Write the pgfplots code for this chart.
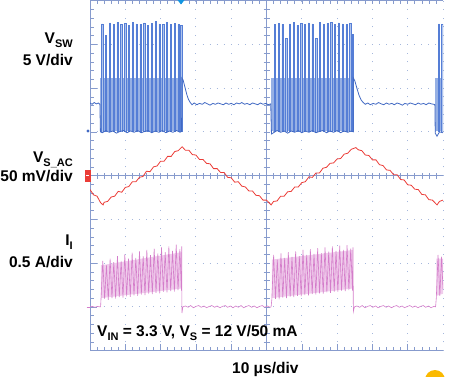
\documentclass[border=0pt]{standalone}
\usepackage{pgfplots}
\pgfplotsset{compat=1.18}
\usepackage{fontspec}
\setmainfont{Liberation Sans}
\definecolor{gridc}{RGB}{165,183,220}
\definecolor{axc}{RGB}{135,155,205}
\definecolor{vsw}{RGB}{65,105,195}
\definecolor{spk}{RGB}{85,126,214}
\definecolor{colfill}{RGB}{175,196,237}
\definecolor{band}{RGB}{150,176,228}
\definecolor{vsac}{RGB}{235,60,55}
\definecolor{ii}{RGB}{212,125,202}
\definecolor{iifill}{RGB}{240,205,236}
\definecolor{trig}{RGB}{20,150,225}
\definecolor{orng}{RGB}{250,185,0}
\newcommand{\sub}[1]{\raisebox{-0.32em}{\fontsize{11}{11}\selectfont #1}}
\newcommand{\lab}{\fontsize{15.5}{18}\selectfont\bfseries}
\begin{document}
\begin{tikzpicture}[x=1pt,y=1pt]
\useasboundingbox (0,0) rectangle (450,376);
% ---- scope graticule ----
\foreach \k in {1,2,3,4,6,7,8,9,10} {
  \draw[gridc, line width=0.9pt, dash pattern=on 0.9pt off 7.85pt, dash phase=0.45pt] ({90+35.3*\k},25.4) -- ({90+35.3*\k},375.4);
}
\foreach \j in {1,2,3,5,6,7} {
  \draw[gridc, line width=0.9pt, dash pattern=on 0.9pt off 6.16pt, dash phase=0.45pt] (90,{25.4+43.75*\j}) -- (443,{25.4+43.75*\j});
}
\draw[axc, line width=0.7pt] (266.5,25.4) -- (266.5,375.4);
\draw[axc, line width=0.7pt] (90,200.4) -- (443,200.4);
\foreach \i in {1,...,39} \draw[axc, line width=0.6pt] (263.5,{25.4+8.75*\i}) -- (269.5,{25.4+8.75*\i});
\foreach \i in {1,...,49} \draw[axc, line width=0.6pt] ({90+7.06*\i},197.4) -- ({90+7.06*\i},203.4);
\draw[axc, line width=0.8pt] (90,375.4) -- (90,25.4) -- (443,25.4);
\draw[axc, line width=0.8pt] (90,375.4) -- (443,375.4);
\foreach \i in {1,...,39} \draw[axc, line width=0.6pt] (90,{25.4+8.75*\i}) -- ++(3.5,0);
\foreach \i in {1,...,7} \draw[axc, line width=0.6pt] (90,{25.4+43.75*\i}) -- ++(7,0);
\foreach \i in {1,...,49} \draw[axc, line width=0.6pt] ({90+7.06*\i},25.4) -- ++(0,3.5);
\foreach \i in {1,...,9} \draw[axc, line width=0.6pt] ({90+35.3*\i},25.4) -- ++(0,7);
\foreach \i in {1,...,49} \draw[axc, line width=0.6pt] ({90+7.06*\i},375.4) -- ++(0,-3.5);
% ---- traces ----
\begin{axis}[at={(90pt,25.4pt)}, anchor=south west, scale only axis,
  width=353pt, height=350pt, xmin=0, xmax=100, ymin=0, ymax=8,
  hide axis, clip=true, unbounded coords=jump]
% V_SW switching band
\addplot[fill=band, draw=none] coordinates {(2.95,5.02) (2.95,6.23) (26.0,6.23) (26.0,5.02)};
\addplot[fill=band, draw=none] coordinates {(51.4,5.02) (51.4,6.23) (74.6,6.23) (74.6,5.02)};
\addplot[fill=band, draw=none] coordinates {(97.8,5.02) (97.8,6.23) (100,6.23) (100,5.02)};
% V_SW narrow switching pulses
\addplot[spk, fill=colfill, line width=0.5pt] coordinates {
(3.30,5.0)(3.30,7.47)(3.65,7.47)(3.65,5.0)(3.65,nan)
(4.38,5.0)(4.38,7.20)(4.73,7.20)(4.73,5.0)(4.73,nan)
(5.46,5.0)(5.46,7.49)(5.81,7.49)(5.81,5.0)(5.81,nan)
(6.54,5.0)(6.54,7.46)(6.89,7.46)(6.89,5.0)(6.89,nan)
(7.62,5.0)(7.62,7.50)(7.97,7.50)(7.97,5.0)(7.97,nan)
(8.70,5.0)(8.70,7.45)(9.05,7.45)(9.05,5.0)(9.05,nan)
(9.78,5.0)(9.78,7.48)(10.13,7.48)(10.13,5.0)(10.13,nan)
(10.86,5.0)(10.86,7.44)(11.21,7.44)(11.21,5.0)(11.21,nan)
(11.94,5.0)(11.94,7.50)(12.29,7.50)(12.29,5.0)(12.29,nan)
(13.02,5.0)(13.02,7.47)(13.37,7.47)(13.37,5.0)(13.37,nan)
(14.10,5.0)(14.10,7.46)(14.45,7.46)(14.45,5.0)(14.45,nan)
(15.18,5.0)(15.18,7.49)(15.53,7.49)(15.53,5.0)(15.53,nan)
(16.26,5.0)(16.26,7.43)(16.61,7.43)(16.61,5.0)(16.61,nan)
(17.34,5.0)(17.34,7.48)(17.69,7.48)(17.69,5.0)(17.69,nan)
(18.42,5.0)(18.42,7.52)(18.77,7.52)(18.77,5.0)(18.77,nan)
(19.50,5.0)(19.50,7.47)(19.85,7.47)(19.85,5.0)(19.85,nan)
(20.58,5.0)(20.58,7.45)(20.93,7.45)(20.93,5.0)(20.93,nan)
(21.66,5.0)(21.66,7.50)(22.01,7.50)(22.01,5.0)(22.01,nan)
(22.74,5.0)(22.74,7.46)(23.09,7.46)(23.09,5.0)(23.09,nan)
(23.82,5.0)(23.82,7.48)(24.17,7.48)(24.17,5.0)(24.17,nan)
(24.90,5.0)(24.90,7.45)(25.25,7.45)(25.25,5.0)(25.25,nan)
(25.65,5.0)(25.65,7.44)(26.00,7.44)(26.00,5.0)(26.00,nan)
(52.20,5.0)(52.20,7.45)(52.55,7.45)(52.55,5.0)(52.55,nan)
(53.27,5.0)(53.27,7.48)(53.62,7.48)(53.62,5.0)(53.62,nan)
(54.33,5.0)(54.33,7.46)(54.68,7.46)(54.68,5.0)(54.68,nan)
(55.40,5.0)(55.40,7.14)(55.75,7.14)(55.75,5.0)(55.75,nan)
(56.46,5.0)(56.46,7.47)(56.81,7.47)(56.81,5.0)(56.81,nan)
(57.53,5.0)(57.53,7.50)(57.88,7.50)(57.88,5.0)(57.88,nan)
(58.60,5.0)(58.60,7.44)(58.95,7.44)(58.95,5.0)(58.95,nan)
(59.66,5.0)(59.66,7.48)(60.01,7.48)(60.01,5.0)(60.01,nan)
(60.73,5.0)(60.73,7.46)(61.08,7.46)(61.08,5.0)(61.08,nan)
(61.79,5.0)(61.79,7.49)(62.14,7.49)(62.14,5.0)(62.14,nan)
(62.86,5.0)(62.86,7.47)(63.21,7.47)(63.21,5.0)(63.21,nan)
(63.93,5.0)(63.93,7.14)(64.28,7.14)(64.28,5.0)(64.28,nan)
(64.99,5.0)(64.99,7.50)(65.34,7.50)(65.34,5.0)(65.34,nan)
(66.06,5.0)(66.06,7.45)(66.41,7.45)(66.41,5.0)(66.41,nan)
(67.12,5.0)(67.12,7.48)(67.47,7.48)(67.47,5.0)(67.47,nan)
(68.19,5.0)(68.19,7.51)(68.54,7.51)(68.54,5.0)(68.54,nan)
(69.26,5.0)(69.26,7.46)(69.61,7.46)(69.61,5.0)(69.61,nan)
(70.32,5.0)(70.32,7.49)(70.67,7.49)(70.67,5.0)(70.67,nan)
(71.39,5.0)(71.39,7.47)(71.74,7.47)(71.74,5.0)(71.74,nan)
(72.45,5.0)(72.45,7.45)(72.80,7.45)(72.80,5.0)(72.80,nan)
(73.52,5.0)(73.52,7.48)(73.87,7.48)(73.87,5.0)(73.87,nan)
(74.25,5.0)(74.25,7.22)(74.60,7.22)(74.60,5.0)(74.60,nan)
(98.70,5.0)(98.70,7.47)(99.05,7.47)(99.05,5.0)(99.05,nan)
(99.60,5.0)(99.60,7.45)(99.95,7.45)(99.95,5.0)(99.95,nan)
};
% V_SW main trace
\addplot[vsw, line width=0.8pt] coordinates {
(0,5.66)(0.6,5.63)(1.2,5.67)(1.8,5.64)(2.4,5.66)(2.8,5.63)(2.95,5.0)
(3.5,4.98)(4.5,5.03)(5.5,4.99)(6.5,5.02)(7.5,4.97)(8.5,5.01)(9.5,5.03)(10.5,4.98)(11.5,5.02)(12.5,4.99)
(13.5,5.03)(14.5,4.98)(15.5,5.01)(16.5,5.03)(17.5,4.98)(18.5,5.02)(19.5,4.99)(20.5,5.03)(21.5,4.98)
(22.5,5.02)(23.5,4.99)(24.5,5.03)(25.5,4.99)(25.95,5.01)(26.0,6.23)(26.4,6.18)(26.9,6.02)(27.4,5.86)
(27.9,5.74)(28.4,5.67)(28.9,5.62)
(29.5,5.66)(30.3,5.62)(31.0,5.65)(31.8,5.63)(32.5,5.67)(33.3,5.64)(34.0,5.61)(34.8,5.65)(35.5,5.63)
(36.3,5.66)(37.0,5.64)(37.8,5.62)(38.5,5.66)(39.3,5.63)(40.0,5.65)(40.8,5.62)(41.5,5.66)(42.3,5.64)
(43.0,5.67)(43.8,5.63)(44.5,5.65)(45.3,5.62)(46.0,5.66)(46.8,5.64)(47.5,5.62)(48.3,5.66)(49.0,5.63)
(49.8,5.65)(50.5,5.62)(51.2,5.64)(51.4,4.95)
(52,4.98)(53,5.03)(54,4.99)(55,5.02)(56,4.97)(57,5.02)(58,4.99)(59,5.03)(60,4.98)(61,5.02)(62,4.99)
(63,5.03)(64,4.98)(65,5.01)(66,5.03)(67,4.98)(68,5.02)(69,4.99)(70,5.03)(71,4.98)(72,5.02)(73,4.99)
(74,5.02)(74.55,5.0)(74.6,6.23)(75.0,6.17)(75.6,6.0)(76.2,5.84)(76.8,5.73)(77.4,5.67)(78.0,5.63)
(78.7,5.66)(79.4,5.62)(80.2,5.65)(81.0,5.63)(81.7,5.67)(82.5,5.64)(83.2,5.62)(84.0,5.66)(84.7,5.63)
(85.5,5.65)(86.2,5.62)(87.0,5.66)(87.7,5.64)(88.5,5.61)(89.2,5.65)(90.0,5.63)(90.7,5.66)(91.5,5.64)
(92.2,5.62)(93.0,5.66)(93.7,5.63)(94.5,5.65)(95.2,5.62)(96.0,5.66)(96.7,5.64)(97.4,5.63)(97.7,5.62)
(97.8,4.97)(98.3,4.9)(99,5.0)(100,4.98)
};
% V_S_AC
\addplot[vsac, line width=0.8pt] coordinates {
(0,3.68)(1,3.56)(2,3.53)(3,3.38)(3.7,3.33)(4,3.39)(5,3.41)(6,3.51)(7,3.53)(8,3.64)(9,3.62)(10,3.73)
(11,3.75)(12,3.86)(13,3.86)(14,3.96)(15,3.98)(16,4.10)(17,4.09)(18,4.20)(19,4.22)(20,4.33)(21,4.33)
(22,4.44)(23,4.44)(24,4.55)(25,4.57)(26.1,4.66)(27,4.58)(28,4.58)(29,4.48)(30,4.47)(31,4.37)(32,4.37)
(33,4.28)(34,4.27)(35,4.16)(36,4.16)(37,4.07)(38,4.07)(39,3.96)(40,3.95)(41,3.85)(42,3.86)(43,3.76)
(44,3.74)(45,3.65)(46,3.65)(47,3.55)(48,3.54)(49,3.44)(50,3.44)(51.3,3.33)(52,3.41)(53,3.42)(54,3.53)
(55,3.53)(56,3.63)(57,3.64)(58,3.74)(59,3.74)(60,3.84)(61,3.86)(62,3.97)(63,3.96)(64,4.06)(65,4.06)
(66,4.17)(67,4.19)(68,4.28)(69,4.29)(70,4.38)(71,4.39)(72,4.49)(73,4.51)(74,4.60)(75.3,4.64)(76,4.59)
(77,4.57)(78,4.47)(79,4.46)(80,4.36)(81,4.36)(82,4.25)(83,4.23)(84,4.13)(85,4.12)(86,4.02)(87,4.02)
(88,3.91)(89,3.90)(90,3.79)(91,3.78)(92,3.69)(93,3.68)(94,3.57)(95,3.56)(96,3.45)(97,3.44)(98.3,3.33)
(99,3.41)(100,3.44)
};
% I_I light fill between the ripple envelopes
\addplot[fill=iifill, draw=none] coordinates {(3.1,1.2) (3.1,1.95) (26.0,2.25) (26.0,1.42)};
\addplot[fill=iifill, draw=none] coordinates {(51.5,1.2) (51.5,2.08) (74.5,2.3) (74.5,1.42)};
\addplot[fill=iifill, draw=none] coordinates {(98.1,1.25) (98.1,2.1) (100,2.1) (100,1.3)};
% I_I
\addplot[ii, line width=0.6pt] coordinates {
(0,1.0)(0.7,1.01)(1.4,0.99)(2.1,1.01)(2.8,1.0)(3.0,1.0)
(3.10,1.15)(3.62,2.05)(4.14,1.18)(4.66,1.95)(5.18,1.16)(5.70,2.10)(6.22,1.20)(6.74,2.02)(7.26,1.19)(7.78,2.16)
(8.30,1.22)(8.82,2.05)(9.34,1.21)(9.86,2.20)(10.38,1.24)(10.90,2.10)(11.42,1.23)(11.94,2.24)(12.46,1.26)(12.98,2.12)
(13.50,1.25)(14.02,2.27)(14.54,1.28)(15.06,2.16)(15.58,1.27)(16.10,2.30)(16.62,1.30)(17.14,2.18)(17.66,1.29)(18.18,2.33)
(18.70,1.32)(19.22,2.22)(19.74,1.31)(20.26,2.36)(20.78,1.34)(21.30,2.25)(21.82,1.33)(22.34,2.38)(22.86,1.36)(23.38,2.28)
(23.90,1.35)(24.42,2.42)(24.94,1.38)(25.46,2.32)(25.90,1.37)(25.98,2.38)(26.05,0.86)(26.3,1.0)
(27,1.02)(27.8,0.99)(28.5,1.03)(29.3,0.98)(30,1.01)(30.8,1.03)(31.5,0.99)(32.3,1.02)(33,0.98)(33.8,1.01)
(34.5,1.03)(35.3,0.99)(36,1.02)(36.8,0.98)(37.5,1.01)(38.3,1.03)(39,0.99)(39.8,1.02)(40.5,0.98)(41.3,1.02)
(42,0.99)(42.8,1.03)(43.5,0.98)(44.3,1.01)(45,1.03)(45.8,0.99)(46.5,1.02)(47.3,0.98)(48,1.01)(48.8,1.03)
(49.5,0.99)(50.3,1.02)(51.0,0.99)(51.3,1.0)
(51.50,1.16)(52.02,2.19)(52.54,1.18)(53.06,2.08)(53.58,1.17)(54.10,2.22)(54.62,1.21)(55.14,2.12)(55.66,1.20)(56.18,2.25)
(56.70,1.23)(57.22,2.14)(57.74,1.22)(58.26,2.27)(58.78,1.25)(59.30,2.16)(59.82,1.24)(60.34,2.30)(60.86,1.27)(61.38,2.19)
(61.90,1.26)(62.42,2.32)(62.94,1.29)(63.46,2.21)(63.98,1.28)(64.50,2.34)(65.02,1.31)(65.54,2.23)(66.06,1.30)(66.58,2.36)
(67.10,1.33)(67.62,2.26)(68.14,1.32)(68.66,2.38)(69.18,1.35)(69.70,2.28)(70.22,1.34)(70.74,2.40)(71.26,1.37)(71.78,2.30)
(72.30,1.36)(72.82,2.41)(73.34,1.38)(73.86,2.33)(74.38,1.37)(74.5,2.36)(74.6,0.89)(74.9,1.0)
(75.6,1.02)(76.4,0.99)(77.1,1.03)(77.9,0.98)(78.6,1.01)(79.4,1.03)(80.1,0.99)(80.9,1.02)(81.6,0.98)(82.4,1.01)
(83.1,1.03)(83.9,0.99)(84.6,1.02)(85.4,0.98)(86.1,1.01)(86.9,1.03)(87.6,0.99)(88.4,1.02)(89.1,0.98)(89.9,1.01)
(90.6,1.03)(91.4,0.99)(92.1,1.02)(92.9,0.98)(93.6,1.01)(94.4,1.03)(95.1,0.99)(95.9,1.02)(96.6,0.98)(97.4,1.01)
(97.9,1.0)(98.1,1.2)(98.6,2.19)(99.1,1.25)(99.6,2.15)(100,1.4)
};
\end{axis}
% ---- channel markers ----
\fill[vsac] (84.5,194) rectangle (90.5,206);
\draw[white, line width=0.8pt] (86,200.4) -- (89,200.4);
\fill[vsw] (88,245) circle (1.6);
\draw[ii, line width=0.8pt] (86.5,69) -- (90,69);
\fill[trig] (177.5,376) -- (184.5,376) -- (181,371.5) -- cycle;
\begin{scope}
\clip (0,0) rectangle (450,376);
\fill[orng] (435,-4) circle (10);
\end{scope}
% ---- labels ----
\node[anchor=base east, inner sep=0] at (73,333) {\lab V\sub{SW}};
\node[anchor=base east, inner sep=0] at (73,311) {\lab 5 V/div};
\node[anchor=base east, inner sep=0] at (73,214) {\lab V\sub{S\_AC}};
\node[anchor=base east, inner sep=0] at (73,195) {\lab 50 mV/div};
\node[anchor=base east, inner sep=0] at (73,131) {\lab I\sub{I}};
\node[anchor=base east, inner sep=0] at (73,109) {\lab 0.5 A/div};
\node[anchor=base west, inner sep=0] at (97,40) {\lab V\sub{IN} = 3.3 V, V\sub{S} = 12 V/50 mA};
\node[anchor=base west, inner sep=0] at (232,3) {\lab 10 μs/div};
\end{tikzpicture}
\end{document}
